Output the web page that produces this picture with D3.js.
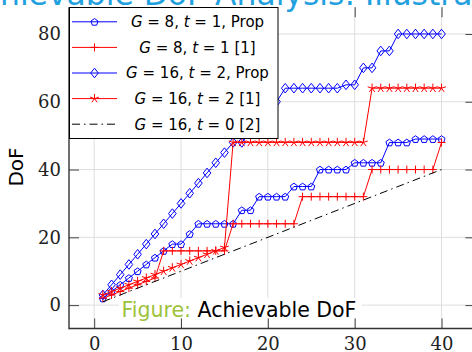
<!DOCTYPE html>
<html lang="en">
<head>
    <meta charset="UTF-8">
    <title>Achievable DoF</title>
    <style>
        body, html {
            margin: 0;
            padding: 0;
            background: #fff;
            overflow: hidden;
        }
        svg { display: block; }
        .grid line { stroke: #dedede; stroke-width: 1px; }
        .axis line, .axis path { stroke: #444; }
        .axis text { font-family: "DejaVu Serif", serif; font-size: 18px; fill: #222; }
    </style>
    <script src="https://d3js.org/d3.v7.min.js"></script>
</head>
<body>
    <div id="chart"></div>

    <script>
        // number of users on the x axis
        const users = [1, 2, 3, 4, 5, 6, 7, 8, 9, 10, 11, 12, 13, 14, 15, 16, 17, 18, 19, 20,
                       21, 22, 23, 24, 25, 26, 27, 28, 29, 30, 31, 32, 33, 34, 35, 36, 37, 38, 39, 40];

        const g8t1Prop = [2, 4, 6, 8, 10, 12, 14, 16, 18, 18, 21, 24, 24, 24, 24, 24, 28, 28, 32, 32,
                          32, 32, 35, 35, 35, 40, 40, 40, 40, 42, 42, 42, 42, 48, 48, 48, 49, 49, 49, 49];
        const g8t1Ref = [2, 3, 4, 5, 6, 7, 8, 16, 16, 16, 16, 16, 16, 16, 16, 24, 24, 24, 24, 24,
                         24, 24, 24, 32, 32, 32, 32, 32, 32, 32, 32, 40, 40, 40, 40, 40, 40, 40, 40, 48];
        const g16t2Prop = [3, 6, 9, 12, 15, 18, 21, 24, 27, 30, 33, 36, 39, 42, 45, 48, 48, 51, 54, 57,
                           60, 64, 64, 64, 64, 64, 64, 64, 65, 65, 70, 70, 75, 75, 80, 80, 80, 80, 80, 80];
        const g16t2Ref = [3, 4, 5, 6, 7, 8, 9, 10, 11, 12, 13, 14, 15, 16, 17, 48, 48, 48, 48, 48,
                          48, 48, 48, 48, 48, 48, 48, 48, 48, 48, 48, 64, 64, 64, 64, 64, 64, 64, 64, 64];
        const g16t0Users = [1, 40];
        const g16t0Ref = [1, 40];

        const xTicks = [0, 10, 20, 30, 40];
        const yTicks = [0, 20, 40, 60, 80];

        const seriesNames = [
            ["8", "1", ", Prop"],
            ["8", "1", " [1]"],
            ["16", "2", ", Prop"],
            ["16", "2", " [1]"],
            ["16", "0", " [2]"]
        ];

        const width = 472, height = 352;
        const plotLeft = 69, plotRight = 475.4, plotTop = 7.2, plotBottom = 328.5;

        const svg = d3.select("#chart").append("svg")
            .attr("width", width)
            .attr("height", height);

        svg.append("rect").attr("width", width).attr("height", height).attr("fill", "#fff");

        const x = d3.scaleLinear().domain([-2.9, 43.9]).range([plotLeft, plotRight]);
        const y = d3.scaleLinear().domain([-6.9, 87.9]).range([plotBottom, plotTop]);

        // slide title, mostly cut off by the crop
        const titleSize = 31.4;
        const title = svg.append("text")
            .attr("y", 4.5)
            .attr("font-family", "DejaVu Sans")
            .attr("font-size", titleSize)
            .attr("fill", "#1fa0df")
            .text("Achievable DoF Analysis: Illustration");
        const probe = svg.append("text").attr("font-family", "DejaVu Sans").attr("font-size", titleSize).text("Ac");
        title.attr("x", -probe.node().getComputedTextLength());
        probe.remove();

        // grid
        const grid = svg.append("g").attr("class", "grid");
        grid.selectAll(".gx").data(xTicks).enter().append("line")
            .attr("x1", d => x(d)).attr("x2", d => x(d))
            .attr("y1", plotTop).attr("y2", plotBottom);
        grid.selectAll(".gy").data(yTicks).enter().append("line")
            .attr("x1", plotLeft).attr("x2", plotRight)
            .attr("y1", d => y(d)).attr("y2", d => y(d));

        // axes, ticks pointing inwards on all sides
        svg.append("g").attr("class", "axis")
            .attr("transform", `translate(${plotLeft},0)`)
            .call(d3.axisLeft(y).tickValues(yTicks).tickSizeInner(-10).tickSizeOuter(0).tickPadding(8))
            .call(g => g.select(".domain").remove());
        svg.append("g").attr("class", "axis")
            .attr("transform", `translate(0,${plotBottom})`)
            .call(d3.axisBottom(x).tickValues(xTicks).tickSizeInner(-10).tickSizeOuter(0).tickPadding(9))
            .call(g => g.select(".domain").remove());
        svg.append("g").attr("class", "axis")
            .attr("transform", `translate(0,${plotTop})`)
            .call(d3.axisTop(x).tickValues(xTicks).tickSizeInner(-10).tickSizeOuter(0).tickFormat(""))
            .call(g => g.select(".domain").remove());
        svg.append("g").attr("class", "axis")
            .attr("transform", `translate(${plotRight},0)`)
            .call(d3.axisRight(y).tickValues(yTicks).tickSizeInner(-10).tickSizeOuter(0).tickFormat(""))
            .call(g => g.select(".domain").remove());

        svg.append("line").attr("x1", plotLeft).attr("x2", plotLeft).attr("y1", plotTop).attr("y2", plotBottom + 0.7)
            .attr("stroke", "#333").attr("stroke-width", 1.4);
        svg.append("line").attr("x1", plotLeft).attr("x2", width).attr("y1", plotBottom).attr("y2", plotBottom)
            .attr("stroke", "#333").attr("stroke-width", 1.4);

        // marker shapes
        function markerPath(type) {
            if (type === "pentagon") {
                const pts = [0, 1, 2, 3, 4].map(k => {
                    const a = -Math.PI / 2 + k * 2 * Math.PI / 5;
                    return [3.7 * Math.cos(a), 3.7 * Math.sin(a) + 0.4];
                });
                return "M" + pts.join("L") + "Z";
            }
            if (type === "diamond") return "M0,-4.8L3.8,0L0,4.8L-3.8,0Z";
            if (type === "plus") return "M-4,0H4M0,-4V4";
            if (type === "star") {
                return [0, 1, 2, 3, 4].map(k => {
                    const a = -Math.PI / 2 + k * 2 * Math.PI / 5;
                    return `M0,0L${4.6 * Math.cos(a)},${4.6 * Math.sin(a)}`;
                }).join("");
            }
            return "";
        }

        const series = [
            { xs: users, ys: g8t1Prop, color: "#0000ff", mark: "pentagon", dash: null },
            { xs: users, ys: g8t1Ref, color: "#ff0000", mark: "plus", dash: null },
            { xs: users, ys: g16t2Prop, color: "#0000ff", mark: "diamond", dash: null },
            { xs: users, ys: g16t2Ref, color: "#ff0000", mark: "star", dash: null },
            { xs: g16t0Users, ys: g16t0Ref, color: "#000", mark: null, dash: "8,4,1.5,4" }
        ];

        const line = d3.line().x(d => x(d[0])).y(d => y(d[1]));

        series.forEach(s => {
            const pts = s.xs.map((v, i) => [v, s.ys[i]]);
            svg.append("path")
                .attr("d", line(pts))
                .attr("fill", "none")
                .attr("stroke", s.color)
                .attr("stroke-width", 1)
                .attr("stroke-dasharray", s.dash);
            if (s.mark) {
                svg.append("g").selectAll("path").data(pts).enter().append("path")
                    .attr("d", markerPath(s.mark))
                    .attr("transform", d => `translate(${x(d[0])},${y(d[1])})`)
                    .attr("fill", "none")
                    .attr("stroke", s.color)
                    .attr("stroke-width", 1);
            }
        });

        // legend
        const legend = svg.append("g");
        legend.append("rect")
            .attr("x", 69.5).attr("y", 7.5)
            .attr("width", 208.5).attr("height", 131)
            .attr("fill", "#fff").attr("stroke", "#000").attr("stroke-width", 1);

        series.forEach((s, i) => {
            const cy = 21.8 + i * 25.6;
            legend.append("line")
                .attr("x1", 72).attr("x2", 117).attr("y1", cy).attr("y2", cy)
                .attr("stroke", s.color).attr("stroke-width", 1)
                .attr("stroke-dasharray", s.dash);
            if (s.mark) {
                legend.append("path")
                    .attr("d", markerPath(s.mark))
                    .attr("transform", `translate(94.5,${cy})`)
                    .attr("fill", "none").attr("stroke", s.color).attr("stroke-width", 1);
            }
            const n = seriesNames[i];
            const t = legend.append("text")
                .attr("x", 197.5).attr("y", cy + 5.3)
                .attr("text-anchor", "middle")
                .attr("font-family", "DejaVu Sans")
                .attr("font-size", 15)
                .attr("fill", "#000");
            t.append("tspan").attr("font-style", "italic").text("G");
            t.append("tspan").text(" = " + n[0] + ", ");
            t.append("tspan").attr("font-style", "italic").text("t");
            t.append("tspan").text(" = " + n[1] + n[2]);
        });

        // y axis label
        svg.append("text")
            .attr("transform", "translate(23,167) rotate(-90)")
            .attr("text-anchor", "middle")
            .attr("font-family", "DejaVu Sans")
            .attr("font-size", 20)
            .attr("fill", "#000")
            .text("DoF");

        // beamer caption sitting over the plot
        svg.append("rect").attr("x", 119).attr("y", 298).attr("width", 243).attr("height", 20).attr("fill", "#fff");
        const cap = svg.append("text")
            .attr("x", 121.5).attr("y", 316.5)
            .attr("font-family", "DejaVu Sans")
            .attr("font-size", 20.5);
        cap.append("tspan").attr("fill", "#9dc23b").text("Figure: ");
        cap.append("tspan").attr("fill", "#000").text("Achievable DoF");
    </script>
</body>
</html>
